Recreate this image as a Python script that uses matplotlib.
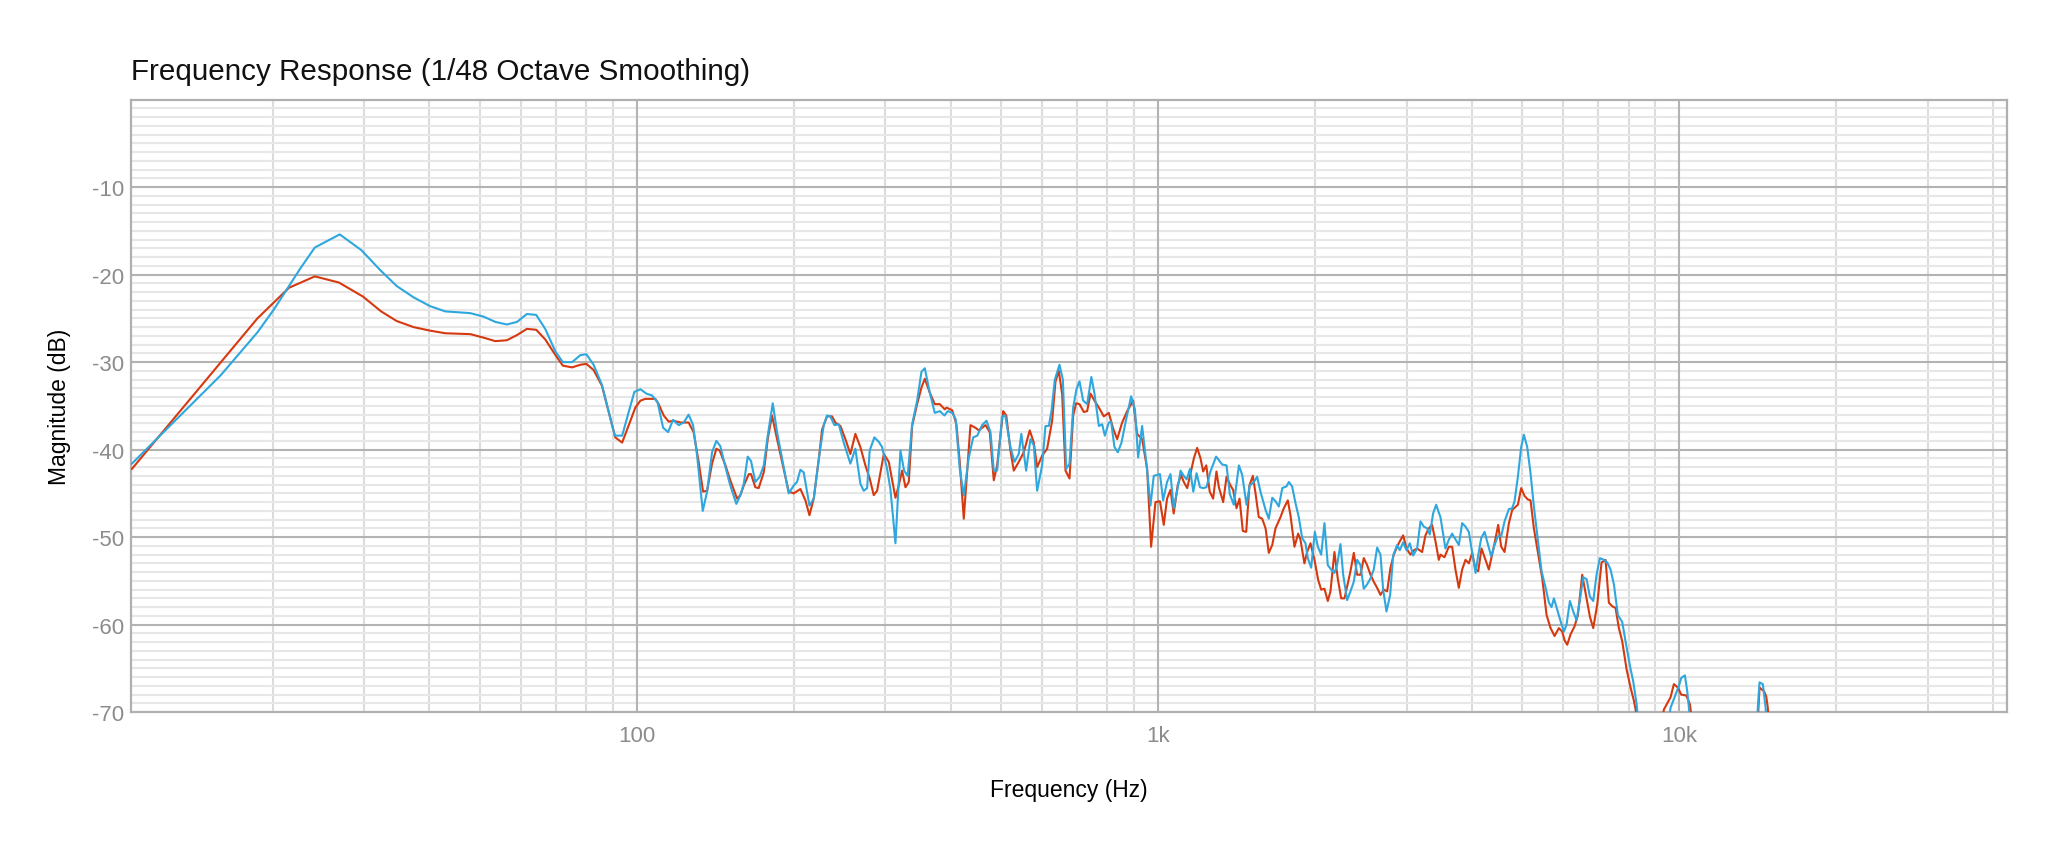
import matplotlib
matplotlib.use("Agg")
import matplotlib.pyplot as plt
from matplotlib.ticker import FixedLocator, FuncFormatter

plt.rcParams['font.family'] = ['Liberation Sans', 'DejaVu Sans']
plt.rcParams['axes.unicode_minus'] = False

# measurement 1 (orange-red)
red_hz = [10.74, 18.7, 21.5, 24.1, 26.8, 29.8, 32.3, 34.6, 37.3, 40.1, 42.9, 47.9, 50.8, 53.5,
          56.3, 58.9, 61.5, 64.1, 66.7, 69.8, 72.1, 75.1, 77.9, 80.0, 82.6, 85.7, 90.9, 93.7,
          97.2, 99.3, 101.6, 103.8, 106.9, 108.5, 110.1, 112.6, 115.1, 117.7, 121.2, 125.7, 128.5,
          131.4, 134.0, 136.4, 139.4, 142.1, 144.2, 147.9, 151.1, 155.7, 158.0, 160.4, 164.0,
          165.6, 168.8, 171.3, 175.2, 178.3, 181.7, 185.8, 191.3, 195.6, 200.0, 206.0, 210.6,
          214.4, 218.5, 223.4, 226.7, 231.7, 236.9, 240.4, 245.8, 251.3, 256.9, 262.6, 268.5,
          274.5, 279.8, 284.8, 289.1, 293.4, 297.8, 304.4,
          313.5, 318.1, 322.9, 327.7, 332.5, 337.5, 345.0, 351.7, 356.9, 364.9, 373.0, 381.4,
          389.9, 393.0, 402.9, 410.4, 416.5, 424.0, 436.7, 446.4, 453.0, 466.7, 475.6, 484.1,
          491.3, 504.6, 511.6, 521.1, 528.8, 540.6, 552.7, 567.5, 577.7, 586.3, 599.4, 612.8,
          626.5, 635.9, 645.3, 654.9, 664.6, 676.5, 687.5, 696.6, 707.1, 720.7, 731.4, 742.3,
          755.4, 770.2, 787.2, 804.8, 820.3, 835.0, 853.7, 872.8, 896.0, 912.1, 932.4, 953.3,
          970.2, 989.0,
          1009, 1026, 1041, 1057, 1072, 1091, 1108, 1121, 1138, 1158, 1172, 1189, 1207, 1221,
          1238, 1257, 1276, 1295, 1309, 1334, 1354, 1378, 1394, 1415, 1434, 1455, 1477, 1498,
          1521, 1539, 1561, 1585, 1609, 1632, 1657, 1681, 1719, 1744, 1775, 1796, 1828, 1858,
          1877, 1910, 1933, 1962, 1997, 2030, 2057, 2087, 2118, 2143, 2181, 2213, 2247, 2280,
          2314, 2341, 2376, 2411, 2447, 2483, 2520, 2558, 2595, 2634, 2673, 2713, 2753, 2794,
          2835, 2898, 2955, 2999, 3052, 3097, 3143, 3213, 3261, 3309, 3358, 3409, 3459,
          3484, 3547, 3615, 3669, 3723, 3779, 3835, 3892, 3950, 4009, 4069, 4117, 4178, 4240,
          4315, 4412, 4497, 4557, 4625, 4715, 4784, 4906, 4978, 5053, 5127, 5188, 5265, 5359,
          5463, 5569, 5668, 5769, 5880, 5968, 6030, 6101, 6192, 6302, 6396, 6519, 6645, 6744,
          6844, 6966, 7100, 7227, 7334, 7443, 7553, 7665, 7779, 7930, 8072, 8191, 8252, 8500,
          9100, 9352, 9632, 9775, 9950, 10096, 10322, 10491, 10700, 14100, 14270, 14550, 14700,
          14800, 15000]
red_db = [-42.2, -25.0, -21.5, -20.2, -20.9, -22.5, -24.2, -25.3, -26.0, -26.4, -26.7, -26.8, -27.2, -27.6,
          -27.5, -26.9, -26.2, -26.3, -27.4, -29.2, -30.4, -30.6, -30.3, -30.2, -30.9, -32.7, -38.6, -39.2,
          -36.7, -35.2, -34.4, -34.2, -34.2, -34.2, -34.8, -36.1, -36.8, -36.7, -36.9, -36.9, -38.0,
          -41.4, -44.8, -44.7, -41.6, -39.9, -40.1, -41.8, -43.5, -45.6, -45.2, -44.1, -42.8,
          -42.8, -44.3, -44.4, -42.6, -38.8, -36.1, -38.8, -42.2, -44.8, -45.0, -44.5, -45.8,
          -47.5, -45.6, -41.1, -37.7, -36.2, -36.2, -36.9, -37.3, -38.8, -40.5, -38.2, -39.7,
          -41.8, -43.3, -45.2, -44.7, -42.6, -40.5, -41.4,
          -45.5, -44.1, -42.4, -44.3, -43.7, -37.3, -34.8, -32.9, -31.9, -33.5, -34.8, -34.8,
          -35.4, -35.2, -35.5, -37.1, -41.4, -47.9, -37.2, -37.5, -37.8, -37.2, -38.0, -43.5,
          -41.8, -35.6, -36.1, -40.1, -42.4, -41.4, -40.3, -37.8, -39.2, -42.0, -40.7, -39.9,
          -36.7, -32.2, -31.0, -33.7, -42.4, -43.3, -36.1, -34.7, -34.8, -35.7, -35.6, -33.6,
          -34.4, -35.2, -36.2, -35.8, -37.6, -38.8, -36.9, -35.6, -34.4, -38.2, -38.8, -42.2,
          -51.1, -46.0,
          -45.9, -48.6, -45.6, -44.6, -47.3, -44.1, -42.9, -43.7, -44.4, -42.4, -41.0, -39.8, -41.0, -42.5,
          -41.8, -44.8, -45.6, -42.5, -44.3, -46.0, -43.1, -44.1, -44.6, -46.7, -45.6, -49.3, -49.4, -44.1,
          -43.0, -45.0, -47.7, -47.9, -49.0, -51.8, -50.9, -49.0, -47.7, -46.7, -45.8, -47.5, -51.1, -49.6,
          -50.3, -53.0, -51.7, -50.7, -52.6, -54.9, -56.0, -55.9, -57.3, -56.2, -51.7, -54.7, -57.0, -57.0,
          -55.3, -53.9, -51.8, -54.3, -54.3, -52.4, -53.2, -54.3, -55.1, -55.8, -56.6, -56.0, -56.2, -53.5,
          -52.0, -50.7, -49.8, -51.3, -52.0, -51.5, -51.3, -51.7, -49.8, -49.0, -48.6, -50.5, -52.6,
          -52.0, -52.3, -51.1, -51.1, -53.7, -55.8, -53.7, -52.6, -53.0, -51.8, -53.7, -53.9, -51.3, -52.4,
          -53.7, -51.1, -48.6, -51.1, -51.7, -48.4, -46.9, -46.3, -44.4, -45.3, -45.7, -45.8, -49.0, -51.7,
          -54.7, -58.9, -60.4, -61.3, -60.4, -60.8, -61.8, -62.3, -61.1, -60.2, -58.9, -54.3, -57.0, -59.1,
          -60.4, -57.7, -52.9, -52.6, -57.5, -57.9, -58.1, -60.4, -61.9, -65.1, -67.2, -68.7, -69.7, -74.0,
          -74.0, -69.7, -68.3, -66.8, -67.2, -68.0, -68.1, -69.1, -73.0, -73.0, -67.2, -67.6, -68.2,
          -69.5, -74.0]

# measurement 2 (blue)
blue_hz = [10.74, 15.9, 18.7, 20.1, 22.6, 24.1, 26.9, 29.6, 32.2, 34.6, 37.3, 40.1, 42.9, 47.9,
           50.8, 53.5, 56.3, 58.9, 61.5, 64.1, 66.7, 69.8, 72.1, 75.1, 77.9, 80.0, 82.6, 85.7,
           90.7, 93.7,
           97.2, 98.9, 101.6, 104.3, 106.9, 109.6, 112.3, 114.8, 117.3, 120.3, 123.0, 125.7, 128.2,
           130.5, 133.8, 136.4, 139.4, 142.1, 144.6, 147.9, 151.1, 155.2, 158.0, 160.4, 163.2,
           165.6, 168.8, 172.1, 175.2, 178.3, 182.3, 185.8, 191.3, 195.6, 200.0, 202.9, 206.0,
           209.0, 214.4, 218.5, 223.4, 228.4, 231.7, 235.1, 239.4, 244.0, 249.5, 256.9, 262.6,
           268.5, 272.5, 276.6, 279.8, 285.6, 291.2, 295.5, 302.1, 306.6,
           313.5, 320.5, 325.7, 330.9, 337.5, 345.0, 351.7, 356.9, 364.9, 373.0, 381.4, 389.3,
           395.0, 402.9, 409.0, 416.5, 424.0, 433.5, 442.0, 450.0, 459.8, 468.7, 477.1, 484.1,
           491.3, 502.3, 509.3, 521.1, 530.4, 540.6, 546.7, 558.5, 569.2, 577.7, 586.3, 599.4,
           608.3, 617.3, 624.7, 634.0, 647.2, 656.9, 666.6, 676.5, 687.5, 697.6, 707.1, 718.5,
           731.4, 745.1, 755.4, 770.2, 781.5, 790.8, 804.8, 813.0, 825.1, 837.4, 851.2, 866.3,
           888.3, 903.3, 916.1, 932.4, 950.4, 967.4, 981.6,
           1009, 1023, 1041, 1057, 1072, 1091, 1105, 1121, 1135, 1152, 1169, 1186, 1204, 1221,
           1239, 1261, 1293, 1309, 1328, 1354, 1374, 1398, 1430, 1451, 1479, 1500, 1528, 1550,
           1573, 1609, 1632, 1657, 1681, 1706, 1732, 1765, 1783, 1809, 1836, 1863, 1891, 1919,
           1939, 1968, 2000, 2027, 2057, 2087, 2118, 2149, 2181, 2207, 2240, 2267, 2307, 2341,
           2376, 2411, 2447, 2483, 2520, 2558, 2595, 2634, 2673, 2705, 2745, 2790, 2827, 2877,
           2911, 2955, 2999, 3043, 3088, 3143, 3190, 3237, 3285, 3324, 3373, 3419, 3464,
           3484, 3562, 3615, 3669, 3779, 3835, 3892, 3950, 4009, 4069, 4111, 4172, 4234, 4296,
           4360, 4425, 4490, 4557, 4625, 4715, 4784, 4834, 4906, 4978, 5038, 5112, 5188, 5265,
           5359, 5447, 5545, 5627, 5693, 5752, 5837, 5924, 6012, 6083, 6174, 6265, 6358, 6452,
           6548, 6645, 6744, 6844, 6945, 7049, 7174, 7280, 7389, 7498, 7632, 7779, 7894, 8048,
           8167, 8289, 8450, 9400, 9632, 9847, 9993, 10096, 10262, 10368, 10445, 10600, 14000,
           14268, 14480, 14659, 14800]
blue_db = [-41.6, -31.5, -26.6, -24.0, -19.3, -16.9, -15.4, -17.2, -19.5, -21.3, -22.6, -23.6, -24.2, -24.4,
           -24.8, -25.4, -25.7, -25.4, -24.5, -24.6, -26.2, -28.8, -30.0, -30.0, -29.2, -29.1, -30.3, -32.6,
           -38.4, -38.4,
           -35.0, -33.4, -33.1, -33.6, -33.8, -34.6, -37.5, -38.0, -36.6, -37.2, -36.9, -36.0, -37.2,
           -40.7, -47.0, -44.8, -40.3, -39.0, -39.6, -42.0, -44.1, -46.2, -45.2, -43.9, -40.8,
           -41.3, -43.7, -43.1, -41.8, -38.4, -34.7, -38.0, -42.0, -45.0, -44.1, -43.7, -42.3,
           -42.6, -46.4, -45.6, -41.1, -37.2, -36.1, -36.2, -37.2, -37.1, -39.2, -41.6, -39.9,
           -43.9, -44.7, -44.4, -40.1, -38.6, -39.1, -39.7, -42.2, -44.5,
           -50.7, -40.1, -42.4, -43.0, -37.1, -34.4, -31.1, -30.7, -33.5, -35.8, -35.6, -36.1,
           -35.6, -35.8, -36.5, -42.2, -45.2, -40.9, -38.6, -38.4, -37.2, -36.7, -38.0, -42.4,
           -42.4, -36.2, -36.1, -39.7, -41.4, -40.5, -38.2, -42.4, -38.8, -39.5, -44.7, -41.8,
           -37.3, -37.3, -35.6, -32.0, -30.3, -32.0, -42.2, -41.6, -35.2, -33.1, -32.2, -34.4,
           -34.8, -31.7, -33.6, -37.3, -37.1, -38.4, -36.9, -36.8, -39.7, -40.3, -39.2, -36.9,
           -33.9, -35.4, -40.9, -37.3, -41.6, -46.4, -43.0,
           -42.8, -45.8, -43.7, -42.8, -46.7, -44.4, -42.4, -43.0, -43.4, -42.2, -44.8, -42.7, -44.3, -44.4,
           -44.3, -42.5, -40.8, -41.2, -41.7, -41.8, -45.1, -46.3, -41.8, -42.9, -46.3, -44.1, -43.7, -43.1,
           -44.8, -46.9, -47.9, -45.5, -45.9, -46.5, -44.4, -44.2, -43.7, -44.2, -46.1, -47.7, -50.1, -50.7,
           -52.4, -53.5, -49.4, -51.1, -52.0, -48.4, -53.2, -53.7, -54.1, -53.2, -50.8, -54.3, -57.2, -56.2,
           -55.1, -52.6, -53.2, -55.9, -55.4, -54.7, -53.7, -51.2, -52.0, -56.0, -58.5, -56.6, -52.1, -50.9,
           -51.5, -50.6, -51.5, -50.7, -52.1, -51.3, -48.2, -48.8, -49.0, -49.7, -47.3, -46.3, -47.3,
           -47.7, -51.3, -50.3, -49.6, -50.9, -48.4, -48.8, -49.4, -51.8, -54.1, -52.3, -50.1, -49.4, -50.8,
           -52.2, -50.9, -49.9, -49.9, -48.2, -46.8, -46.7, -45.9, -43.1, -39.7, -38.3, -39.7, -42.7, -46.5,
           -50.3, -53.9, -55.8, -57.5, -58.0, -57.0, -58.3, -59.6, -60.8, -60.0, -57.3, -58.5, -59.5, -57.2,
           -54.6, -54.8, -56.8, -57.3, -54.3, -52.4, -52.6, -52.9, -53.7, -55.4, -58.9, -59.7, -61.9, -64.7,
           -66.5, -69.1, -74.0, -74.0, -69.5, -68.0, -67.0, -66.1, -65.8, -67.6, -69.5, -74.0, -74.0,
           -66.6, -66.8, -69.5, -74.0]

x_ticks = [100, 1000, 10000]
x_tick_labels = ['100', '1k', '10k']
y_ticks = [-70, -60, -50, -40, -30, -20, -10]

fig = plt.figure(figsize=(20.48, 8.53), dpi=100)
ax = fig.add_axes([0.064, 0.164, 0.916, 0.718])

ax.plot(red_hz, red_db, color='#d6390f', lw=1.5, zorder=3)
ax.plot(blue_hz, blue_db, color='#2ea7df', lw=1.5, zorder=4)

ax.set_xscale('log')
ax.set_xlim(10.7, 42600)
ax.set_ylim(-70, 0)

minor_x = [m * d for d in (10, 100, 1000, 10000) for m in range(2, 10) if 10.7 < m * d < 42600]
ax.xaxis.set_major_locator(FixedLocator(x_ticks))
ax.xaxis.set_minor_locator(FixedLocator(minor_x))
ax.xaxis.set_major_formatter(FuncFormatter(lambda v, p: x_tick_labels[x_ticks.index(v)] if v in x_ticks else ''))
ax.xaxis.set_minor_formatter(FuncFormatter(lambda v, p: ''))
ax.yaxis.set_major_locator(FixedLocator(y_ticks))
ax.yaxis.set_minor_locator(FixedLocator(list(range(-69, 0))))

# light 1 dB / minor decade grid, then the darker main lines on top of it
ax.grid(which='minor', axis='y', color='#e7e7e7', lw=1.5)
ax.grid(which='minor', axis='x', color='#dcdcdc', lw=1.5)
ax.set_axisbelow(True)
for v in x_ticks:
    ax.axvline(v, color='#b3b3b3', lw=1.5, zorder=1)
for v in y_ticks[1:]:
    ax.axhline(v, color='#b3b3b3', lw=1.5, zorder=1)

ax.tick_params(which='both', length=0)
ax.tick_params(axis='x', pad=9, labelsize=16, labelcolor='#8c8c8c')
ax.tick_params(axis='y', pad=5, labelsize=16, labelcolor='#8c8c8c')
for s in ax.spines.values():
    s.set_color('#b0b0b0')
    s.set_linewidth(1.6)

ax.set_xlabel('Frequency (Hz)', fontsize=16.5, labelpad=23)
ax.set_ylabel('Magnitude (dB)', fontsize=16.5, labelpad=15)

fig.text(0.064, 0.906, 'Frequency Response (1/48 Octave Smoothing)', fontsize=21.3, color='#111111',
         ha='left', va='baseline')

fig.savefig('out.png', dpi=100)
